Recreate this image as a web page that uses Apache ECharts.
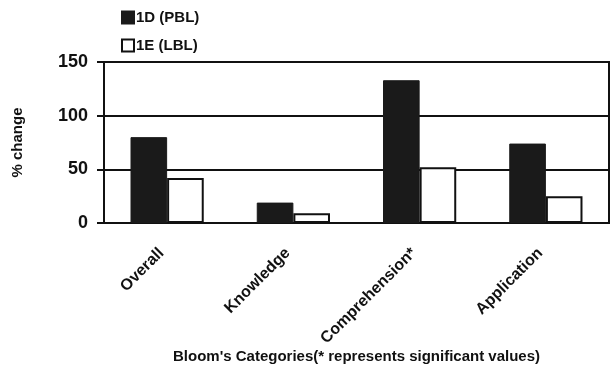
<!DOCTYPE html>
<html>
<head>
<meta charset="utf-8">
<script src="https://cdn.jsdelivr.net/npm/echarts@6/dist/echarts.min.js"></script>
<style>html,body{margin:0;padding:0;background:#fff;}#c{width:612px;height:372px;}</style>
</head>
<body>
<div id="c"></div>
<script>
var categories = ['Overall', 'Knowledge', 'Comprehension*', 'Application'];
var seriesNames = ['1D (PBL)', '1E (LBL)'];
var pbl = [80, 19, 133, 74];
var lbl = [42, 9, 52, 25];
var yTicks = [0, 50, 100, 150];

var FONT = '"Liberation Sans", Arial, sans-serif';
var chart = echarts.init(document.getElementById('c'), null, {renderer: 'canvas'});
chart.setOption({
  animation: false,
  backgroundColor: '#fff',
  textStyle: {fontFamily: FONT},
  legend: {
    orient: 'vertical', left: 116, top: 5,
    itemWidth: 12, itemHeight: 12, itemGap: 13,
    icon: 'rect',
    textStyle: {fontFamily: FONT, fontWeight: 'bold', fontSize: 15, color: '#111', padding: [0, 0, 0, -3]},
    data: seriesNames
  },
  grid: {left: 104, right: 3, top: 62, bottom: 149, show: true, borderColor: '#111', borderWidth: 2, backgroundColor: 'transparent'},
  xAxis: {
    type: 'category', data: categories,
    name: "Bloom's Categories(* represents significant values)",
    nameLocation: 'middle', nameGap: 126,
    nameTextStyle: {fontFamily: FONT, fontWeight: 'bold', fontSize: 15, color: '#111'},
    axisLine: {lineStyle: {color: '#111', width: 2}},
    axisTick: {inside: true, length: 5, lineStyle: {color: '#111', width: 2}},
    axisLabel: {rotate: 45, margin: 22, padding: [0, 8, 0, 0], fontFamily: FONT, fontWeight: 'bold', fontSize: 16, color: '#111', interval: 0}
  },
  yAxis: {
    type: 'value', min: yTicks[0], max: yTicks[yTicks.length - 1], interval: 50,
    name: '% change', nameLocation: 'middle', nameGap: 79, nameRotate: 90,
    nameTextStyle: {fontFamily: FONT, fontWeight: 'bold', fontSize: 15, color: '#111'},
    axisLine: {show: true, lineStyle: {color: '#111', width: 2}},
    axisTick: {show: true, length: 7, lineStyle: {color: '#111', width: 2}},
    axisLabel: {margin: 16, fontFamily: FONT, fontWeight: 'bold', fontSize: 18, color: '#111'},
    splitLine: {show: true, lineStyle: {color: '#111', width: 2}}
  },
  series: [
    {name: seriesNames[0], type: 'bar', data: pbl, barGap: 0, barCategoryGap: '42%',
     itemStyle: {color: '#1a1a1a', borderColor: '#1a1a1a', borderWidth: 1}},
    {name: seriesNames[1], type: 'bar', data: lbl, barGap: 0, barCategoryGap: '42%',
     itemStyle: {color: '#fff', borderColor: '#111', borderWidth: 2}}
  ]
});
</script>
</body>
</html>
